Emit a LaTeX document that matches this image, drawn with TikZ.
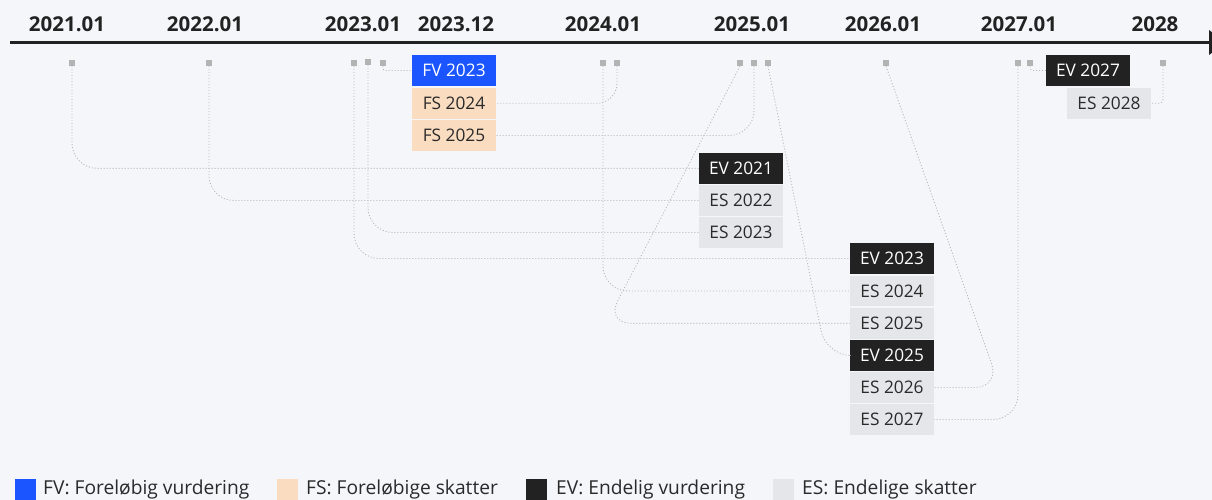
\documentclass[tikz,border=0pt]{standalone}
\usepackage{fontspec}
\setmainfont{Open Sans}
\usetikzlibrary{calc}
\definecolor{bg}{HTML}{F5F6FA}
\definecolor{fvc}{HTML}{1A55FF}
\definecolor{fsc}{HTML}{FADCC0}
\definecolor{evc}{HTML}{222222}
\definecolor{esc}{HTML}{E4E6EA}
\definecolor{dotc}{HTML}{B8B8B8}
\definecolor{sqc}{HTML}{B3B3B3}
\definecolor{txt}{HTML}{2A2A2A}
\begin{document}
\begin{tikzpicture}[x=1pt,y=-1pt,
  box/.style={minimum width=84pt, minimum height=30.8pt, inner sep=0pt, font=\fontsize{17.3}{17.3}\selectfont},
  fvbox/.style={box, fill=fvc, text=white},
  fsbox/.style={box, fill=fsc, text=txt},
  evbox/.style={box, fill=evc, text=white},
  esbox/.style={box, fill=esc, text=txt},
  tick/.style={fill=sqc, minimum size=6pt, inner sep=0pt},
  year/.style={font=\fontsize{20.5}{20.5}\selectfont\bfseries, text=evc, inner sep=0pt},
  conn/.style={draw=dotc, line width=0.9pt, dash pattern=on 1pt off 2pt, rounded corners=25pt},
  legsq/.style={minimum width=20.5pt, minimum height=21pt, inner sep=0pt},
  legtxt/.style={font=\fontsize{19.2}{19.2}\selectfont, text=txt, inner sep=0pt, anchor=west}]
\fill[bg] (0,0) rectangle (1212,500);
\useasboundingbox (0,0) rectangle (1212,500);
% timeline
\coordinate (tl0) at (10,42.5);
\coordinate (tl1) at (1209,42.5);
\draw[evc, line width=3.5pt] (tl0) -- (tl1);
\fill[evc] (1209,30) -- (1226,42.5) -- (1209,55) -- cycle;
% year labels
\node[year] (y21) at (67,24.5) {2021.01};
\node[year] (y22) at (205,24.5) {2022.01};
\node[year] (y23) at (363,24.5) {2023.01};
\node[year] (y2312) at (456,24.5) {2023.12};
\node[year] (y24) at (603,24.5) {2024.01};
\node[year] (y25) at (752,24.5) {2025.01};
\node[year] (y26) at (883,24.5) {2026.01};
\node[year] (y27) at (1019,24.5) {2027.01};
\node[year] (y28) at (1155,24.5) {2028};
% ticks
\node[tick] (s1) at (72,63) {};
\node[tick] (s2) at (209,63) {};
\node[tick] (s3) at (354,63) {};
\node[tick] (s4) at (368,62) {};
\node[tick] (s5) at (383,63) {};
\node[tick] (s6) at (603,63) {};
\node[tick] (s7) at (617,63) {};
\node[tick] (s8) at (740,63) {};
\node[tick] (s9) at (754,63) {};
\node[tick] (s10) at (768,63) {};
\node[tick] (s11) at (886,63) {};
\node[tick] (s12) at (1018,63) {};
\node[tick] (s13) at (1030,63) {};
\node[tick] (s14) at (1163,63) {};
% boxes
\node[fvbox] (fv23) at (454,70.5) {FV 2023};
\node[fsbox] (fs24) at (454,103.3) {FS 2024};
\node[fsbox] (fs25) at (454,135.5) {FS 2025};
\node[evbox] (ev21) at (741,168.3) {EV 2021};
\node[esbox] (es22) at (741,200.5) {ES 2022};
\node[esbox] (es23) at (741,232.5) {ES 2023};
\node[evbox] (ev23) at (892,258.5) {EV 2023};
\node[esbox] (es24) at (892,291) {ES 2024};
\node[esbox] (es25) at (892,323.3) {ES 2025};
\node[evbox] (ev25) at (892,355.5) {EV 2025};
\node[esbox] (es26) at (892,387.5) {ES 2026};
\node[esbox] (es27) at (892,419.5) {ES 2027};
\node[evbox] (ev27) at (1088,70.5) {EV 2027};
\node[esbox] (es28) at (1109,103.3) {ES 2028};
% connector corners
\coordinate (c8) at (606,323.3);
\coordinate (c10) at (826,355.5);
\coordinate (c11) at (1000,387.5);
% connectors
\draw[conn] (s1.south) |- (ev21.west);
\draw[conn] (s2.south) |- (es22.west);
\draw[conn] (s4.south) |- (es23.west);
\draw[conn] (s3.south) |- (ev23.west);
\draw[conn, rounded corners=2pt] (s5.south) |- (fv23.west);
\draw[conn] (s6.south) |- (es24.west);
\draw[conn, rounded corners=20pt] (s7.south) |- (fs24.east);
\draw[conn] (s9.south) |- (fs25.east);
\draw[conn] (s8.south) -- (c8) -- (es25.west);
\draw[conn] (s10.south) -- (c10) -- (ev25.west);
\draw[conn] (s11.south) -- (c11) -- (es26.east);
\draw[conn] (s12.south) |- (es27.east);
\draw[conn, rounded corners=3pt] (s13.south) |- (ev27.west);
\draw[conn, rounded corners=4pt] (s14.south) |- (es28.east);
% legend
\node[legsq, fill=fvc] (l1) at (25.25,489.5) {};
\node[legtxt] (l1t) at (43,489.5) {FV: Foreløbig vurdering};
\node[legsq, fill=fsc] (l2) at (287.25,489.5) {};
\node[legtxt] (l2t) at (306,489.5) {FS: Foreløbige skatter};
\node[legsq, fill=evc] (l3) at (536.25,489.5) {};
\node[legtxt] (l3t) at (556,489.5) {EV: Endelig vurdering};
\node[legsq, fill=esc] (l4) at (783.25,489.5) {};
\node[legtxt] (l4t) at (802,489.5) {ES: Endelige skatter};
\end{tikzpicture}
\end{document}
